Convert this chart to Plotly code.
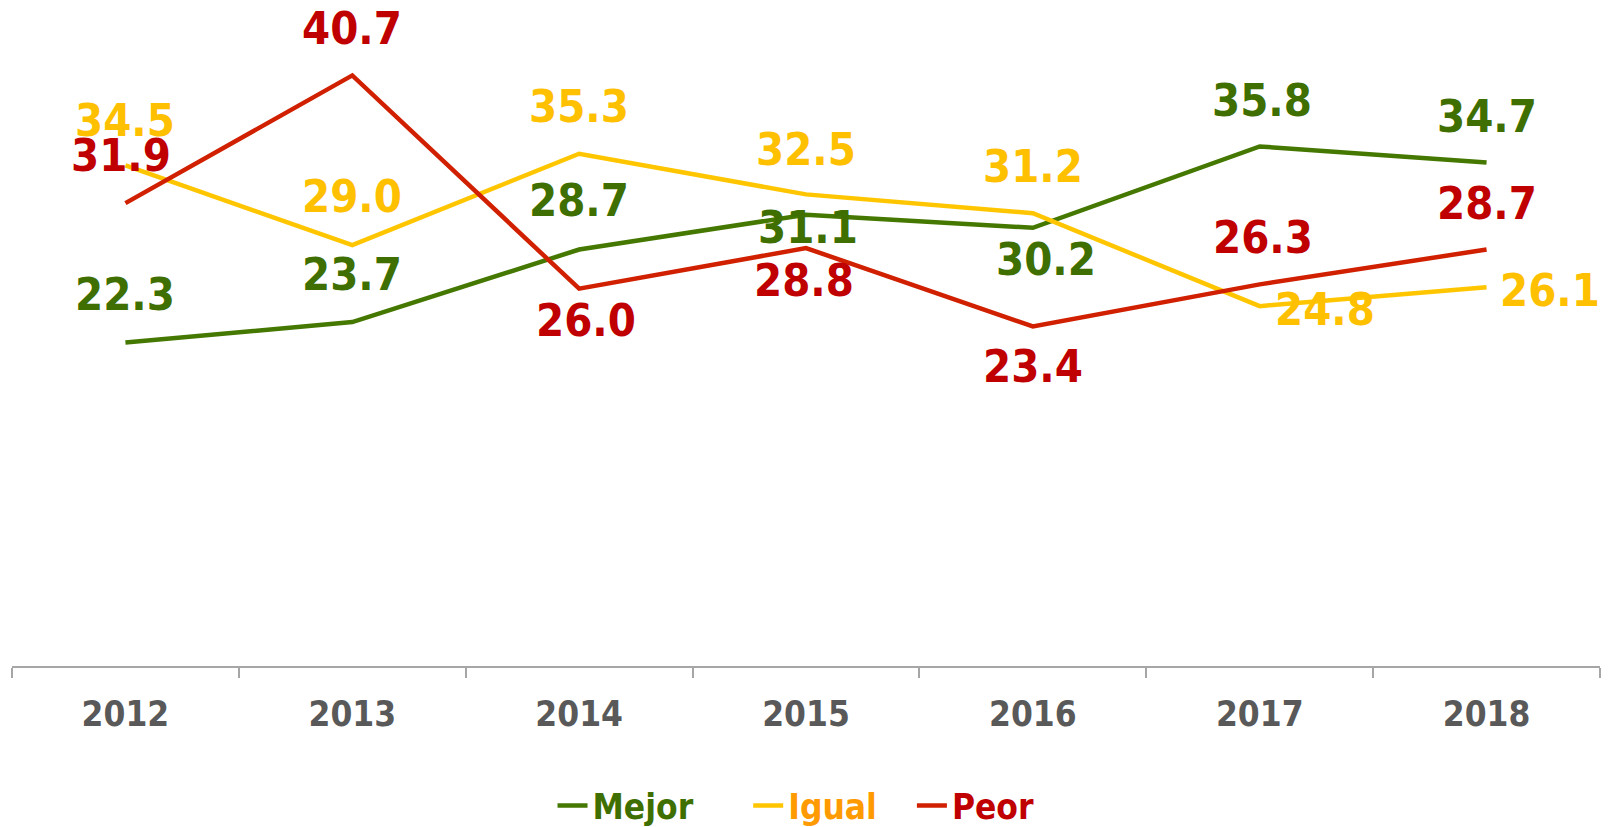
import plotly.graph_objects as go

years = ["2012", "2013", "2014", "2015", "2016", "2017", "2018"]
mejor = [22.3, 23.7, 28.7, 31.1, 30.2, 35.8, 34.7]
igual = [34.5, 29.0, 35.3, 32.5, 31.2, 24.8, 26.1]
peor = [31.9, 40.7, 26.0, 28.8, 23.4, 26.3, 28.7]

# label offsets in px (xshift, yshift), placed by hand like the original
OFFSETS = {
    "Mejor": [(0, 48), (0, 48), (0, 49), (2, -13), (13, -32), (2, 46), (0, 46)],
    "Igual": [(0, 45), (0, 49), (0, 47), (0, 45), (0, 47), (65, -3), (63, -3)],
    "Peor": [(-4, 48), (0, 47), (7, -32), (-2, -32), (0, -40), (3, 47), (0, 46)],
}

# name, values, line colour, label colour, legend text colour, legend padding
SERIES = [
    ("Mejor", mejor, "#457800", "#3F6F00", "#3F6F00", 5),
    ("Igual", igual, "#FFC600", "#FFC000", "#FF9A00", 3),
    ("Peor", peor, "#D02000", "#C00000", "#C00000", 4),
]

FONT = "DejaVu Sans Condensed, DejaVu Sans, sans-serif"

fig = go.Figure()
for name, vals, line_col, label_col, legend_col, pad in SERIES:
    fig.add_trace(go.Scatter(
        x=years, y=vals, mode="lines",
        name=f"<span style='color:{legend_col}'><b>{name}</b></span>" + "&nbsp;" * pad,
        line=dict(color=line_col, width=4.5),
        hoverinfo="skip",
    ))
    # data labels (category index on x, since string years get mixed up)
    for i, v in enumerate(vals):
        dx, dy = OFFSETS[name][i]
        fig.add_annotation(
            x=i, y=v, xref="x", yref="y",
            text="<b>%.1f</b>" % v, showarrow=False,
            xshift=dx, yshift=dy,
            font=dict(family=FONT, size=45, color=label_col),
        )

fig.update_layout(
    width=1608, height=827,
    margin=dict(l=12, r=8, t=13, b=161, autoexpand=False),
    plot_bgcolor="white", paper_bgcolor="white",
    font=dict(family=FONT, color="#595959"),
    showlegend=True,
    legend=dict(
        orientation="h", x=0.506, xanchor="center", y=-0.214, yanchor="middle",
        font=dict(family=FONT, size=35), traceorder="normal",
    ),
    xaxis=dict(
        type="category", showgrid=False, showline=True, linecolor="#A6A6A6", linewidth=2,
        ticks="outside", tickson="boundaries", ticklen=10, tickcolor="#A6A6A6", tickwidth=2,
        tickfont=dict(family=FONT, size=35, color="#595959", weight="bold"),
        ticklabelstandoff=16, range=[-0.5, 6.5],
    ),
    yaxis=dict(range=[0, 45], visible=False, showgrid=False, zeroline=False),
)

fig.write_html("out.html", config={"displayModeBar": False},
               post_script="document.body.style.margin='0';")
